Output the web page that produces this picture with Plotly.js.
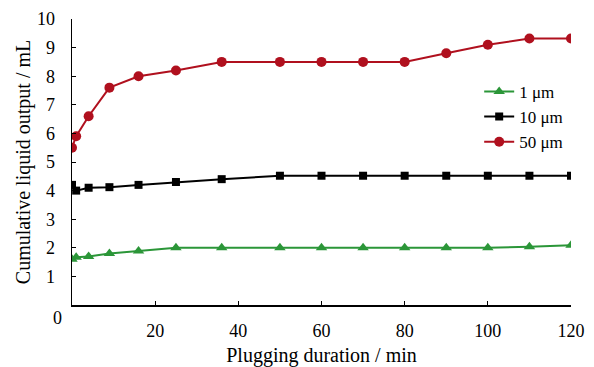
<!DOCTYPE html>
<html>
<head>
<meta charset="utf-8">
<script src="https://cdn.plot.ly/plotly-3.0.1.min.js"></script>
<style>html,body{margin:0;padding:0;background:#fff;}#chart{width:594px;height:367px;}</style>
</head>
<body>
<div id="chart"></div>
<script>
const seriesNames = ["1 \u03bcm", "10 \u03bcm", "50 \u03bcm"];
const timeMin = [0, 1, 4, 9, 16, 25, 36, 50, 60, 70, 80, 90, 100, 110, 120];
const output1um = [1.6, 1.67, 1.7, 1.8, 1.89, 2.0, 2.0, 2.0, 2.0, 2.0, 2.0, 2.0, 2.0, 2.04, 2.09];
const output10um = [4.2, 4.0, 4.1, 4.12, 4.2, 4.3, 4.4, 4.52, 4.52, 4.52, 4.52, 4.52, 4.52, 4.52, 4.52];
const output50um = [5.5, 5.9, 6.6, 7.6, 8.0, 8.2, 8.5, 8.5, 8.5, 8.5, 8.5, 8.8, 9.1, 9.32, 9.32];
const xTicks = [20, 40, 60, 80, 100, 120];
const yTicks = [1, 2, 3, 4, 5, 6, 7, 8, 9, 10];

const font = "Liberation Serif, Times New Roman, serif";
const traces = [
  {x: timeMin, y: output1um, name: seriesNames[0], mode: "lines+markers",
   line: {color: "#2b9638", width: 2}, marker: {symbol: "triangle-up", size: 10, color: "#2b9638"}},
  {x: timeMin, y: output10um, name: seriesNames[1], mode: "lines+markers",
   line: {color: "#000000", width: 2}, marker: {symbol: "square", size: 8, color: "#000000"}},
  {x: timeMin, y: output50um, name: seriesNames[2], mode: "lines+markers",
   line: {color: "#b0101e", width: 2}, marker: {symbol: "circle", size: 10, color: "#b0101e"}}
];
const layout = {
  width: 594, height: 367,
  margin: {l: 72, r: 23, t: 19, b: 62},
  paper_bgcolor: "#fff", plot_bgcolor: "#fff",
  font: {family: font, size: 18, color: "#000"},
  showlegend: true,
  legend: {x: 0.816, y: 0.808, xanchor: "left", yanchor: "top", bgcolor: "rgba(0,0,0,0)",
           font: {family: font, size: 17}, tracegroupgap: 0, itemwidth: 30},
  xaxis: {range: [0, 120], tickvals: xTicks, ticks: "inside", ticklen: 4, tickcolor: "#000",
          showline: true, linecolor: "#000", linewidth: 1.5, showgrid: false, zeroline: false,
          tickfont: {family: font, size: 18}, ticklabelstandoff: 9,
          title: {text: "Plugging duration / min", font: {family: font, size: 20}, standoff: 8}},
  yaxis: {range: [0, 10], tickvals: yTicks, ticks: "inside", ticklen: 4, tickcolor: "#000",
          showline: true, linecolor: "#000", linewidth: 1.5, showgrid: false, zeroline: false,
          tickfont: {family: font, size: 18}, ticklabelstandoff: 12,
          title: {text: "Cumulative liquid output / mL", font: {family: font, size: 20}, standoff: 1}},
  annotations: [{text: "0", x: 0, y: 0, xref: "x", yref: "y", showarrow: false,
                 xshift: -15, yshift: -13, font: {family: font, size: 18}}]
};
Plotly.newPlot("chart", traces, layout, {displayModeBar: false, staticPlot: true});
</script>
</body>
</html>
